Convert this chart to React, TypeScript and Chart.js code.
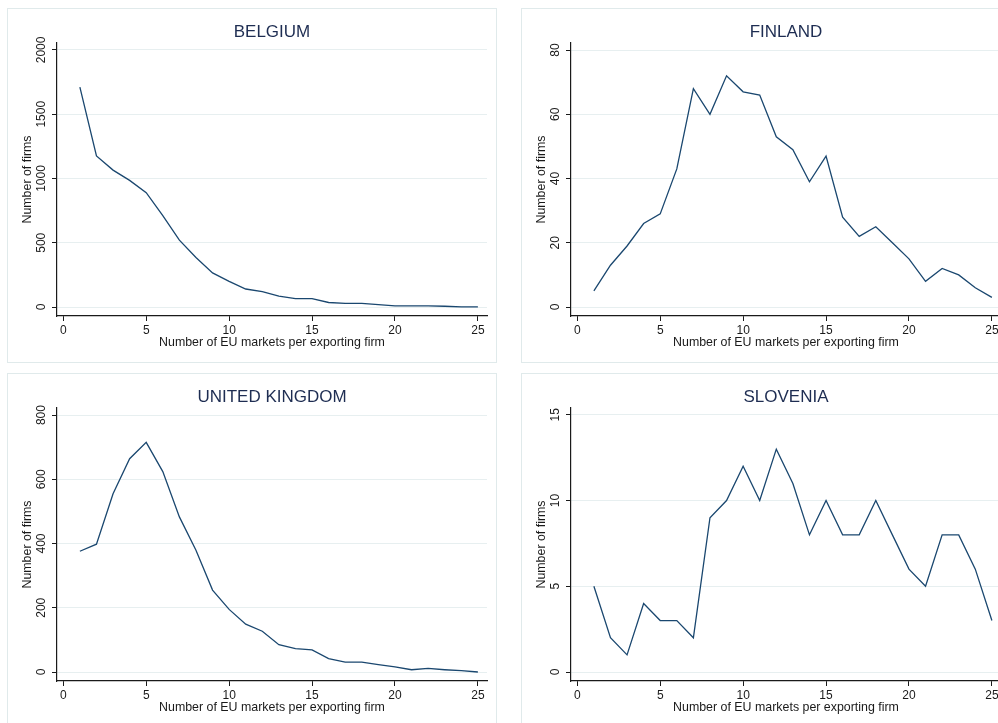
import React, { useEffect, useRef } from "react";
import { Chart, registerables } from "chart.js";

Chart.register(...registerables);

// ---------- data ----------
const marketCounts = [1, 2, 3, 4, 5, 6, 7, 8, 9, 10, 11, 12, 13, 14, 15, 16, 17, 18, 19, 20, 21, 22, 23, 24, 25];

const belgiumFirms = [1710, 1175, 1065, 985, 890, 710, 520, 385, 265, 200, 140, 120, 85, 65, 65, 35, 28, 28, 18, 8, 8, 8, 6, 1, 1];
const finlandFirms = [5, 13, 19, 26, 29, 43, 68, 60, 72, 67, 66, 53, 49, 39, 47, 28, 22, 25, 20, 15, 8, 12, 10, 6, 3];
const ukFirms = [376, 398, 555, 664, 715, 624, 483, 379, 255, 195, 149, 127, 85, 73, 69, 42, 31, 31, 23, 16, 7, 11, 7, 4, 0];
const sloveniaFirms = [5, 2, 1, 4, 3, 3, 2, 9, 10, 12, 10, 13, 11, 8, 10, 8, 8, 10, 8, 6, 5, 8, 8, 6, 3];

const belgiumTicks = [0, 500, 1000, 1500, 2000];
const finlandTicks = [0, 20, 40, 60, 80];
const ukTicks = [0, 200, 400, 600, 800];
const sloveniaTicks = [0, 5, 10, 15];
const xTicks = [0, 5, 10, 15, 20, 25];

const panelTitles = ["BELGIUM", "FINLAND", "UNITED KINGDOM", "SLOVENIA"];
const xTitle = "Number of EU markets per exporting firm";
const yTitle = "Number of firms";

// ---------- styling ----------
const FONT = "'Liberation Sans', Arial, sans-serif";
const LINE_COLOR = "#1a476f";
const TITLE_COLOR = "#1e2d52";
const TEXT_COLOR = "#1a1a1a";
const AXIS_COLOR = "#1a1a1a";
const GRID_COLOR = "#e7eff0";
const PANEL_BORDER = "#e0eaeb";
const PANEL_W = 490;
const PANEL_H = 355;

// draws the panel title centred over the plot region
const plotTitlePlugin = {
  id: "plotTitle",
  afterDraw(chart: any, _args: any, opts: any) {
    const { ctx, chartArea } = chart;
    if (!opts || !opts.text) return;
    ctx.save();
    ctx.font = `17px ${FONT}`;
    ctx.fillStyle = TITLE_COLOR;
    ctx.textAlign = "center";
    ctx.textBaseline = "middle";
    ctx.fillText(opts.text, (chartArea.left + chartArea.right) / 2, 24);
    ctx.restore();
  },
};

type PanelProps = {
  title: string;
  values: number[];
  yTicks: number[];
  yMin: number;
  yMax: number;
  left: number;
  top: number;
};

function Panel({ title, values, yTicks, yMin, yMax, left, top }: PanelProps) {
  const ref = useRef<HTMLCanvasElement | null>(null);

  useEffect(() => {
    const canvas = ref.current;
    if (!canvas) return;
    const mctx = document.createElement("canvas").getContext("2d")!;
    mctx.font = `12px ${FONT}`;
    const widest = Math.max(...yTicks.map((v) => mctx.measureText(String(v)).width));
    const yPad = 10 - widest / 2;

    const chart = new Chart(canvas, {
      type: "line",
      data: {
        datasets: [
          {
            data: marketCounts.map((x, i) => ({ x, y: values[i] })),
            borderColor: LINE_COLOR,
            borderWidth: 1.3,
            pointRadius: 0,
            tension: 0,
            fill: false,
          },
        ],
      },
      plugins: [plotTitlePlugin],
      options: {
        animation: false,
        responsive: false,
        layout: { padding: { left: 0, right: 10, top: 35, bottom: 0 } },
        plugins: {
          legend: { display: false },
          tooltip: { enabled: false },
          title: { display: false },
          plotTitle: { text: title },
        },
        scales: {
          x: {
            type: "linear",
            min: -0.38,
            max: 25.55,
            afterBuildTicks: (s: any) => {
              s.ticks = xTicks.map((v) => ({ value: v }));
            },
            afterFit: (s: any) => {
              s.height = 47;
            },
            grid: { drawOnChartArea: false, tickLength: 5, tickColor: AXIS_COLOR, tickWidth: 1 },
            border: { color: AXIS_COLOR, width: 1.2 },
            ticks: {
              color: TEXT_COLOR,
              font: { family: FONT, size: 12 },
              padding: 2.5,
              maxRotation: 0,
              autoSkip: false,
              callback: (v: any) => String(v),
            },
            title: {
              display: true,
              text: xTitle,
              color: TEXT_COLOR,
              font: { family: FONT, size: 12.4 },
              padding: { top: 0, bottom: 13 },
            },
          },
          y: {
            type: "linear",
            min: yMin,
            max: yMax,
            afterBuildTicks: (s: any) => {
              s.ticks = yTicks.map((v) => ({ value: v }));
            },
            afterFit: (s: any) => {
              s.width = 50;
            },
            grid: { color: GRID_COLOR, lineWidth: 1, tickLength: 5, tickColor: AXIS_COLOR, tickWidth: 1 },
            border: { color: AXIS_COLOR, width: 1.2 },
            ticks: {
              color: TEXT_COLOR,
              font: { family: FONT, size: 12 },
              padding: yPad,
              minRotation: 90,
              maxRotation: 90,
              crossAlign: "center",
              autoSkip: false,
              callback: (v: any) => String(v),
            },
            title: {
              display: true,
              text: yTitle,
              color: TEXT_COLOR,
              font: { family: FONT, size: 12.4 },
              padding: { top: 13.5, bottom: 0 },
            },
          },
        },
      } as any,
    });
    return () => chart.destroy();
  }, [title, values, yTicks, yMin, yMax]);

  return (
    <>
      <div
        style={{
          position: "absolute",
          left,
          top,
          width: PANEL_W,
          height: PANEL_H,
          boxSizing: "border-box",
          border: `1px solid ${PANEL_BORDER}`,
        }}
      />
      <canvas
        ref={ref}
        width={PANEL_W}
        height={PANEL_H}
        style={{ position: "absolute", left, top, width: PANEL_W, height: PANEL_H }}
      />
    </>
  );
}

export default function App() {
  useEffect(() => {
    document.body.style.margin = "0";
    document.body.style.background = "#ffffff";
  }, []);
  return (
    <div style={{ position: "relative", width: 998, height: 723, overflow: "hidden", background: "#fff" }}>
      <Panel title={panelTitles[0]} values={belgiumFirms} yTicks={belgiumTicks} yMin={-70} yMax={2054} left={7} top={8} />
      <Panel title={panelTitles[1]} values={finlandFirms} yTicks={finlandTicks} yMin={-2.8} yMax={82.2} left={521} top={8} />
      <Panel title={panelTitles[2]} values={ukFirms} yTicks={ukTicks} yMin={-28} yMax={822} left={7} top={373} />
      <Panel title={panelTitles[3]} values={sloveniaFirms} yTicks={sloveniaTicks} yMin={-0.525} yMax={15.4} left={521} top={373} />
    </div>
  );
}
